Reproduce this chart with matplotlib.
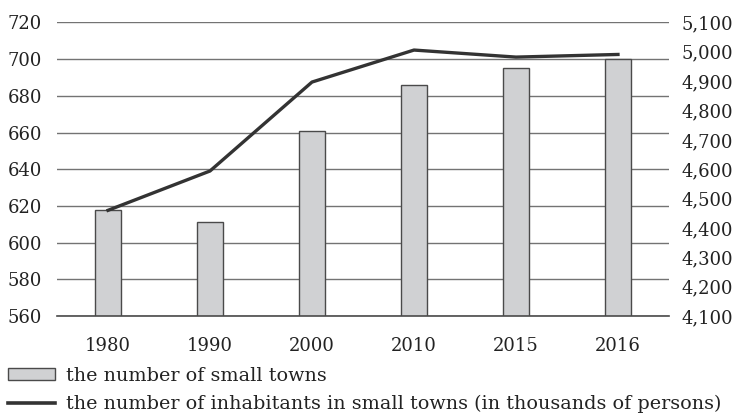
import matplotlib.pyplot as plt
from matplotlib.patches import Patch
from matplotlib.lines import Line2D
from matplotlib.ticker import FuncFormatter

years = ['1980', '1990', '2000', '2010', '2015', '2016']
towns = [618, 611, 661, 686, 695, 700]
inhabitants = [4460, 4594, 4897, 5006, 4982, 4991]

plt.rcParams['font.family'] = 'DejaVu Serif'
plt.rcParams['font.size'] = 13

fig = plt.figure(figsize=(7.34, 4.16), dpi=100)
ax = fig.add_axes([0.0777, 0.2404, 0.8337, 0.7056])
ax2 = ax.twinx()

x = list(range(len(years)))
ax.bar(x, towns, width=0.26, color='#d0d1d3', edgecolor='#4a4a4a', linewidth=1, zorder=2)
ax.set_ylim(560, 720)
ax.set_yticks(range(560, 721, 20))
ax.set_xlim(-0.5, 5.5)
ax.set_xticks(x)
ax.set_xticklabels(years)
ax.yaxis.grid(True, color='#737373', linewidth=1)
ax.set_axisbelow(True)
# base line at the bottom of the bars
ax.axhline(560, color='#4a4a4a', linewidth=1.2, clip_on=False, zorder=2.5)
ax.tick_params(axis='x', length=0, pad=15, colors='#222222')
ax.tick_params(axis='y', length=0, pad=11, colors='#222222')

ax2.plot(x, inhabitants, color='#333333', linewidth=2.4, zorder=3)
ax2.set_ylim(4100, 5100)
ax2.set_yticks(range(4100, 5101, 100))
ax2.yaxis.set_major_formatter(FuncFormatter(lambda v, p: f'{int(v):,}'))
ax2.tick_params(axis='y', length=0, pad=9, colors='#222222')

for a in (ax, ax2):
    for s in a.spines.values():
        s.set_visible(False)

handles = [Patch(facecolor='#d0d1d3', edgecolor='#4a4a4a', linewidth=1),
           Line2D([], [], color='#333333', linewidth=2.6)]
labels = ['the number of small towns',
          'the number of inhabitants in small towns (in thousands of persons)']
fig.legend(handles, labels, loc='upper left', bbox_to_anchor=(0.011, 0.118),
           frameon=False, fontsize=13.8, handlelength=2.45, handleheight=0.62,
           handletextpad=0.55, labelspacing=0.52, borderaxespad=0,
           borderpad=0, labelcolor='#222222')

fig.savefig('out.png', dpi=100)
